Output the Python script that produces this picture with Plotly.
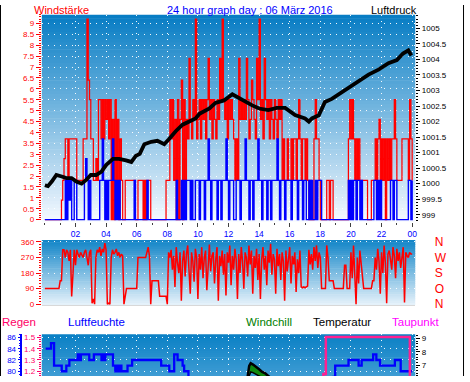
import numpy as np
import plotly.graph_objects as go

W, H = 470, 382

# ---------------------------------------------------------------- data
SAMPLE_MIN = 5  # wind samples every 5 minutes, one row per hour

gust_by_hour = [
    [0, 0, 0, 0, 0, 0, 0, 0, 0, 0, 0, 0],                          # 00
    [0, 0.9, 1.8, 2.8, 3.7, 3.7, 1.8, 3.7, 3.7, 3.7, 3.7, 3.7],     # 01
    [3.7, 1.8, 1.8, 1.8, 1.8, 1.8, 3.7, 3.7, 3.7, 9.2, 6.4, 5.5],   # 02
    [3.7, 3.7, 1.8, 1.8, 2.8, 1.8, 5.5, 5.5, 3.7, 5.5, 3.7, 5.5],   # 03
    [4.6, 5.5, 3.7, 5.5, 0, 4.6, 0, 5.5, 1.8, 4.6, 0, 3.7],         # 04
    [1.8, 0, 0, 1.8, 1.8, 1.8, 1.8, 1.8, 1.8, 1.8, 1.8, 0],         # 05
    [0, 1.8, 1.8, 1.8, 1.8, 0, 1.8, 0, 1.8, 1.8, 1.8, 0],           # 06
    [0, 0, 0, 0, 0, 0, 0, 0, 0, 0, 0, 1.8],                         # 07
    [1.8, 1.8, 5.5, 3.7, 5.5, 1.8, 4.6, 0, 5.5, 0, 4.6, 6.4],       # 08
    [0, 5.5, 1.8, 4.6, 3.7, 7.4, 4.6, 3.7, 5.5, 4.6, 9.2, 3.7],     # 09
    [4.6, 5.5, 3.7, 5.5, 4.6, 5.5, 3.7, 5.5, 7.4, 4.6, 5.5, 3.7],   # 10
    [5.5, 4.6, 3.7, 5.5, 4.6, 7.4, 5.5, 9.2, 5.5, 4.6, 5.5, 3.7],   # 11
    [5.5, 4.6, 5.5, 4.6, 3.7, 1.8, 3.7, 1.8, 7.4, 4.6, 5.5, 4.6],   # 12
    [5.5, 4.6, 7.4, 5.5, 3.7, 4.6, 6.4, 5.5, 4.6, 3.7, 7.4, 5.5],   # 13
    [9.2, 4.6, 5.5, 3.7, 7.4, 5.5, 4.6, 5.5, 3.7, 5.5, 4.6, 3.7],   # 14
    [5.5, 4.6, 3.7, 5.5, 4.6, 5.5, 1.8, 3.7, 1.8, 1.8, 3.7, 1.8],   # 15
    [1.8, 3.7, 1.8, 3.7, 3.7, 1.8, 3.7, 5.5, 3.7, 1.8, 3.7, 3.7],   # 16
    [1.8, 3.7, 1.8, 0, 1.8, 0, 0, 3.7, 5.5, 3.7, 3.7, 1.8],         # 17
    [0, 0, 0, 0, 0, 1.8, 1.8, 0, 1.8, 1.8, 0, 0],                   # 18
    [0, 0, 0, 0, 0, 0, 0, 0, 0, 0, 3.7, 5.5],                       # 19
    [3.7, 5.5, 3.7, 1.8, 3.7, 1.8, 3.7, 1.8, 1.8, 1.8, 1.8, 1.8],   # 20
    [1.8, 0, 0, 0, 1.8, 1.8, 1.8, 3.7, 1.8, 3.7, 4.6, 1.8],         # 21
    [3.7, 1.8, 3.7, 0, 3.7, 1.8, 3.7, 1.8, 3.7, 3.7, 5.5, 3.7],     # 22
    [1.8, 1.8, 1.8, 1.8, 3.7, 3.7, 3.7, 3.7, 3.7, 1.8, 5.5, 3.7],   # 23
]
gust_midnight = 1.8

avg_by_hour = [
    [0, 0, 0, 0, 0, 0, 0, 0, 0, 0, 0, 0],                     # 00
    [0, 0, 0, 0, 1.8, 0, 1.8, 0.9, 1.8, 0, 0, 1.8],           # 01
    [1.8, 0, 0, 0, 0, 0, 0, 1.8, 2.8, 1.8, 0, 1.8],           # 02
    [0, 0, 0, 0, 0, 0, 0, 1.8, 1.8, 3.7, 1.8, 0],             # 03
    [1.8, 0, 1.8, 1.8, 1.8, 3.7, 1.8, 0, 1.8, 0, 1.8, 0],     # 04
    [0, 0, 0, 0, 0, 0, 0, 0, 0, 0, 1.8, 0],                   # 05
    [0, 0, 0, 0, 0, 0, 0, 0, 1.8, 0, 0, 0],                   # 06
    [0, 0, 0, 0, 0, 0, 0, 0, 0, 0, 0, 0],                     # 07
    [0, 0, 0, 0, 0, 0, 0, 1.8, 0, 0, 0, 1.8],                 # 08
    [0, 1.8, 0, 1.8, 1.8, 1.8, 0, 1.8, 0, 0, 1.8, 1.8],       # 09
    [1.8, 0, 1.8, 1.8, 1.8, 0, 1.8, 1.8, 3.7, 1.8, 0, 1.8],   # 10
    [1.8, 1.8, 1.8, 0, 1.8, 1.8, 0, 1.8, 1.8, 1.8, 3.7, 1.8], # 11
    [0, 1.8, 1.8, 1.8, 0, 0, 1.8, 1.8, 1.8, 0, 1.8, 1.8],     # 12
    [1.8, 3.7, 1.8, 1.8, 0, 1.8, 1.8, 0, 1.8, 1.8, 1.8, 3.7], # 13
    [1.8, 1.8, 0, 1.8, 1.8, 1.8, 0, 1.8, 1.8, 0, 1.8, 1.8],   # 14
    [1.8, 1.8, 3.7, 1.8, 0, 1.8, 1.8, 1.8, 0, 1.8, 1.8, 1.8], # 15
    [1.8, 0, 1.8, 1.8, 1.8, 1.8, 0, 1.8, 1.8, 1.8, 0, 1.8],   # 16
    [1.8, 0, 0, 1.8, 0, 1.8, 0, 0, 1.8, 0, 1.8, 1.8],         # 17
    [1.8, 0, 0, 0, 0, 0, 0, 0, 0, 0, 0, 0],                   # 18
    [0, 0, 0, 0, 0, 0, 0, 0, 0, 0, 1.8, 0],                   # 19
    [1.8, 0, 1.8, 1.8, 0, 1.8, 1.8, 0, 1.8, 0, 0, 0],         # 20
    [0, 0, 0, 0, 0, 0, 1.8, 1.8, 0, 1.8, 0, 1.8],             # 21
    [0, 0, 0, 0, 0, 0, 0, 1.8, 1.8, 0, 1.8, 1.8],             # 22
    [0, 0, 0, 0, 0, 0, 0, 0, 0, 1.8, 1.8, 0],                 # 23
]
avg_midnight = 1.8

dir_by_hour = [
    [90, 90, 90, 90, 90, 90, 90, 90, 90, 90, 90, 90],               # 00
    [135, 135, 315, 315, 270, 315, 300, 250, 315, 45, 170, 315],    # 01
    [225, 315, 290, 270, 300, 280, 270, 300, 315, 270, 225, 300],   # 02
    [315, 5, 30, 0, 270, 315, 300, 330, 280, 320, 300, 354],        # 03
    [315, 0, 5, 0, 270, 315, 290, 300, 320, 280, 300, 270],         # 04
    [290, 280, 0, 45, 90, 90, 90, 90, 90, 90, 90, 90],              # 05
    [90, 270, 270, 270, 270, 270, 270, 270, 300, 330, 280, 0],      # 06
    [135, 135, 135, 135, 135, 135, 45, 45, 45, 45, 45, 45],         # 07
    [0, 300, 270, 315, 200, 280, 100, 330, 240, 180, 300, 20],      # 08
    [250, 310, 160, 290, 340, 210, 60, 300, 250, 130, 320, 270],    # 09
    [30, 290, 200, 330, 150, 270, 310, 80, 240, 345, 190, 280],     # 10
    [300, 120, 260, 330, 20, 280, 220, 310, 170, 290, 50, 300],     # 11
    [240, 340, 110, 280, 200, 320, 260, 30, 290, 180, 330, 250],    # 12
    [90, 300, 270, 160, 340, 230, 310, 60, 280, 210, 320, 140],     # 13
    [290, 30, 260, 330, 200, 280, 110, 310, 240, 350, 170, 290],    # 14
    [260, 60, 320, 220, 290, 140, 300, 250, 20, 310, 190, 270],     # 15
    [330, 120, 280, 230, 300, 70, 260, 180, 310, 100, 95, 100],     # 16
    [95, 100, 105, 315, 230, 290, 200, 330, 250, 340, 210, 300],    # 17
    [270, 90, 90, 90, 90, 340, 270, 135, 135, 135, 135, 90],        # 18
    [90, 90, 90, 90, 90, 90, 90, 225, 225, 90, 90, 90],             # 19
    [300, 150, 340, 200, 0, 270, 120, 310, 230, 160, 90, 90],       # 20
    [90, 90, 90, 90, 90, 135, 135, 270, 200, 320, 250, 60],         # 21
    [300, 180, 340, 240, 5, 290, 310, 260, 200, 330, 280, 150],     # 22
    [320, 250, 300, 210, 270, 330, 10, 300, 280, 270, 300, 290],    # 23
]
dir_midnight = 290

pressure_hours = [0.0, 0.2, 0.45, 0.75, 1.1, 1.4, 1.75, 2.05, 2.4, 2.7, 3.0, 3.35,
                  3.7, 4.0, 4.45, 4.85, 5.3, 5.65, 5.95, 6.2, 6.5, 6.95, 7.35, 7.8,
                  8.1, 8.55, 9.0, 9.45, 9.85, 10.1, 10.75, 11.15, 11.7, 12.25, 12.6,
                  13.1, 13.55, 14.0, 14.6, 15.15, 15.7, 16.35, 17.0, 17.25, 17.45,
                  17.9, 18.3, 18.75, 19.4, 20.05, 20.7, 21.15, 21.8, 22.45, 23.0,
                  23.4, 23.75, 23.95]
pressure_hpa = [999.95, 999.92, 1000.07, 1000.28, 1000.23, 1000.18, 1000.18, 1000.07,
                1000.0, 1000.12, 1000.28, 1000.28, 1000.39, 1000.6, 1000.8, 1000.8,
                1000.75, 1000.7, 1000.9, 1000.96, 1001.27, 1001.35, 1001.38, 1001.27,
                1001.43, 1001.69, 1001.9, 1002.0, 1002.1, 1002.25, 1002.42, 1002.6,
                1002.68, 1002.88, 1002.78, 1002.63, 1002.52, 1002.42, 1002.37, 1002.44,
                1002.44, 1002.21, 1002.1, 1002.0, 1002.1, 1002.2, 1002.63, 1002.73,
                1002.94, 1003.15, 1003.35, 1003.51, 1003.67, 1003.88, 1003.98, 1004.19,
                1004.29, 1004.13]

humidity_hours = [0.05, 0.4, 0.6, 1.1, 1.4, 1.6, 2.15, 2.2, 2.25, 2.3, 2.35, 2.4, 2.9,
                  3.2, 3.7, 3.75, 3.8, 3.85, 3.9, 3.95, 4.0, 4.45, 4.6, 4.7, 4.8, 4.9,
                  5.0, 5.1, 5.4, 5.7, 7.6, 8.13, 8.45, 8.67, 9.0, 9.1, 9.38, 9.6, 11.0,
                  13.0, 15.0, 17.0, 18.5, 18.86, 18.97, 19.84, 20.5, 20.7, 21.45, 21.66,
                  21.9, 22.87, 23.25, 24.0]
humidity_pct = [84, 85, 81, 80, 81, 82, 83, 82, 83, 82, 83, 83, 82, 83, 82, 83, 82, 83,
                82, 83, 83, 81, 80, 81, 80, 81, 80, 80, 81, 82, 81, 80, 83, 82, 81, 80,
                78, 76, 73, 70, 72, 75, 78, 79, 81, 82, 81, 82, 83, 82, 81, 82, 80, 80]

temp_hours = [0, 3, 6, 8, 10, 11, 12, 12.5, 13.0, 13.25, 13.35, 13.45, 13.6, 13.8, 14.0,
              14.2, 14.4, 14.65, 15.0, 16, 18, 20, 22, 24]
temp_c = [3.6, 3.3, 3.2, 3.6, 4.5, 5.0, 5.5, 5.8, 6.0, 6.15, 6.95, 7.15, 7.05, 6.9, 6.7,
          6.5, 6.4, 6.15, 5.9, 5.5, 4.8, 4.4, 4.1, 3.9]
windchill_c = [2.0, 1.7, 1.6, 1.8, 2.7, 3.3, 3.9, 4.6, 5.4, 5.8, 6.2, 6.5, 6.45, 6.35,
               6.2, 6.1, 5.95, 5.6, 5.2, 4.4, 4.0, 3.3, 2.9, 2.8]

dew_hours = [0, 6, 12, 18.2, 18.36, 23.85, 24]
dew_c = [2.4, 2.2, 2.6, 6.35, 9.1, 4.0, 4.0]

rain_hours = [0, 24]
rain_mm = [0, 0]

hour_tick_vals = [2, 4, 6, 8, 10, 12, 14, 16, 18, 20, 22, 24]
hour_tick_text = ["02", "04", "06", "08", "10", "12", "14", "16", "18", "20", "22", "00"]
wind_tick_vals = [0, 0.5, 1, 1.5, 2, 2.5, 3, 3.5, 4, 4.5, 5, 5.5, 6, 6.5, 7, 7.5, 8, 8.5, 9]
pressure_tick_vals = [999, 999.5, 1000, 1000.5, 1001, 1001.5, 1002, 1002.5, 1003,
                      1003.5, 1004, 1004.5, 1005]
dir_tick_vals = [0, 90, 180, 270, 360]
compass_text = ["N", "O", "S", "W", "N"]
humidity_tick_vals = [80, 82, 84, 86]
rain_tick_vals = [1.2, 1.3, 1.4, 1.5]
temp_tick_vals = [7, 8, 9]

# ---------------------------------------------------------------- series
gust = [v for row in gust_by_hour for v in row] + [gust_midnight]
avg = [v for row in avg_by_hour for v in row] + [avg_midnight]
wdir = [v for row in dir_by_hour for v in row] + [dir_midnight]
wind_hours = [i * SAMPLE_MIN / 60 for i in range(len(gust))]

# ---------------------------------------------------------------- layout helpers
FONT = "Liberation Sans, Arial, sans-serif"
RED = "#ff0000"
BLUE = "#0000ff"
PINK = "#ff0066"
X_DOM = [42 / W, 417 / W]
X_RANGE = [-0.2, 24.2]


def ydom(top_px, bot_px):
    return [1 - bot_px / H, 1 - top_px / H]


TOP = (10, 223)
MID = (242, 309)
BOT = (339, 382)

GRID = dict(showgrid=True, gridcolor="rgba(255,255,255,0.95)", gridwidth=1,
            griddash="1px,5px")


def gradient(top_px, bot_px, c_top, c_bot, n):
    out = []
    for i in range(n):
        t0 = top_px + (bot_px - top_px) * i / n
        t1 = top_px + (bot_px - top_px) * (i + 1) / n
        f = (i + 0.5) / n
        col = tuple(int(round(a + (b - a) * f)) for a, b in zip(c_top, c_bot))
        out.append(dict(type="rect", xref="paper", yref="paper",
                        x0=X_DOM[0], x1=X_DOM[1],
                        y0=1 - min(t1 + 0.6, bot_px) / H, y1=1 - t0 / H,
                        fillcolor="rgb(%d,%d,%d)" % col, line=dict(width=0),
                        layer="below"))
    return out


shapes = []
shapes += gradient(*TOP, (6, 124, 196), (246, 250, 255), 60)
shapes += gradient(*MID, (16, 132, 199), (232, 243, 251), 30)
shapes += gradient(*BOT, (10, 128, 197), (62, 156, 211), 20)
for xp in (0.5, 465.5):
    shapes.append(dict(type="line", xref="paper", yref="paper", x0=xp / W, x1=xp / W,
                       y0=0, y1=1, line=dict(color="black", width=1), layer="above"))

fig = go.Figure()

# top panel: wind + pressure
fig.add_trace(go.Scatter(x=wind_hours, y=gust, mode="lines", line_shape="hv",
                         line=dict(color=RED, width=1.25), xaxis="x", yaxis="y"))
fig.add_trace(go.Scatter(x=wind_hours, y=avg, mode="lines", line_shape="hv",
                         line=dict(color=BLUE, width=1.4), xaxis="x", yaxis="y"))
fig.add_trace(go.Scatter(x=pressure_hours, y=pressure_hpa, mode="lines",
                         line=dict(color="black", width=3.8), xaxis="x", yaxis="y2"))

# middle panel: wind direction (also carries the compass-letter axis)
fig.add_trace(go.Scatter(x=wind_hours, y=wdir, mode="lines",
                         line=dict(color=RED, width=1.5), xaxis="x2", yaxis="y3"))
fig.add_trace(go.Scatter(x=wind_hours, y=wdir, mode="lines", opacity=0,
                         line=dict(color=RED, width=0), hoverinfo="skip",
                         xaxis="x2", yaxis="y4"))

# bottom panel
fig.add_trace(go.Scatter(x=rain_hours, y=rain_mm, mode="lines",
                         line=dict(color=PINK, width=2), xaxis="x3", yaxis="y5"))
fig.add_trace(go.Scatter(x=humidity_hours, y=humidity_pct, mode="lines", line_shape="hv",
                         line=dict(color=BLUE, width=2.3), xaxis="x3", yaxis="y6"))
fig.add_trace(go.Scatter(x=temp_hours, y=windchill_c, mode="lines",
                         line=dict(color="black", width=1.5), xaxis="x3", yaxis="y7"))
fig.add_trace(go.Scatter(x=temp_hours, y=temp_c, mode="lines", fill="tonexty",
                         fillcolor="#0e8a0e",
                         line=dict(color="black", width=2.5), xaxis="x3", yaxis="y7"))
fig.add_trace(go.Scatter(x=dew_hours, y=dew_c, mode="lines", line_shape="hv",
                         line=dict(color="#ff2090", width=2.5), xaxis="x3", yaxis="y7"))

tickf = lambda c, s=8: dict(family=FONT, size=s, color=c)

fig.update_layout(
    width=W, height=H, margin=dict(l=0, r=0, t=0, b=0),
    paper_bgcolor="white", plot_bgcolor="rgba(0,0,0,0)",
    showlegend=False, shapes=shapes,
    font=dict(family=FONT),
    xaxis=dict(domain=X_DOM, range=X_RANGE, anchor="y", tickmode="array",
               tickvals=hour_tick_vals, ticktext=hour_tick_text, tickfont=tickf(BLUE, 8.5),
               ticks="outside", ticklen=4, tickcolor="#404040",
               minor=dict(dtick=1, tick0=0, ticks="outside", ticklen=2, tickcolor="#404040",
                          showgrid=False),
               zeroline=False, showline=False, **GRID),
    yaxis=dict(domain=ydom(*TOP), range=[-0.09, 9.40], anchor="x", tickmode="array",
               tickvals=wind_tick_vals, ticktext=["%g" % v for v in wind_tick_vals],
               tickfont=tickf(RED), ticks="outside", ticklen=5, tickcolor=RED,
               minor=dict(dtick=0.1, tick0=0, ticks="outside", ticklen=2, tickcolor=RED,
                          showgrid=False),
               zeroline=False, showline=False, **GRID),
    yaxis2=dict(overlaying="y", side="right", anchor="x", range=[998.78, 1005.44],
                tickmode="array", tickvals=pressure_tick_vals,
                ticktext=["%g" % v for v in pressure_tick_vals],
                tickfont=tickf("black"), ticks="outside", ticklen=4, tickcolor="black",
                minor=dict(dtick=0.1, tick0=999, ticks="outside", ticklen=2,
                           tickcolor="black", showgrid=False),
                showgrid=False, zeroline=False, showline=False),
    xaxis2=dict(domain=X_DOM, range=X_RANGE, anchor="y3", showticklabels=False,
                ticks="", showgrid=False, zeroline=False, showline=True,
                linecolor="#d8d8d8", linewidth=1),
    yaxis3=dict(domain=ydom(*MID), range=[-5.6, 371.3], anchor="x2", tickmode="array",
                tickvals=dir_tick_vals, ticktext=[str(v) for v in dir_tick_vals],
                tickfont=tickf(RED), ticks="outside", ticklen=5, tickcolor=RED,
                minor=dict(dtick=15, tick0=0, ticks="outside", ticklen=2, tickcolor=RED,
                           showgrid=False),
                zeroline=False, showline=False, **GRID),
    yaxis4=dict(overlaying="y3", side="right", anchor="x2", range=[-5.6, 371.3],
                tickmode="array", tickvals=dir_tick_vals, ticktext=compass_text,
                tickfont=tickf(RED, 12), ticks="outside", ticklen=16,
                tickcolor="rgba(0,0,0,0)", showgrid=False, zeroline=False, showline=False),
    xaxis3=dict(domain=X_DOM, range=X_RANGE, anchor="y5", tickmode="array",
                tickvals=hour_tick_vals, showticklabels=False, ticks="",
                zeroline=False, showline=False, **GRID),
    yaxis5=dict(domain=ydom(*BOT), range=[1.158, 1.528], anchor="x3", tickmode="array",
                tickvals=rain_tick_vals, ticktext=["%.1f" % v for v in rain_tick_vals],
                tickfont=tickf(PINK), ticks="outside", ticklen=4, tickcolor=PINK,
                minor=dict(dtick=0.02, tick0=1.0, ticks="outside", ticklen=2,
                           tickcolor=PINK, showgrid=False),
                zeroline=False, showline=False, **GRID),
    yaxis6=dict(overlaying="y5", anchor="free", position=21.5 / W, side="left",
                range=[79.16, 86.57], tickmode="array", tickvals=humidity_tick_vals,
                ticktext=[str(v) for v in humidity_tick_vals], tickfont=tickf(BLUE),
                ticks="outside", ticklen=3, tickcolor=BLUE,
                minor=dict(dtick=0.5, tick0=80, ticks="outside", ticklen=2,
                           tickcolor=BLUE, showgrid=False),
                showline=True, linecolor=BLUE, linewidth=1.5,
                showgrid=False, zeroline=False),
    yaxis7=dict(overlaying="y5", side="right", anchor="x3", range=[6.2, 9.31],
                tickmode="array", tickvals=temp_tick_vals,
                ticktext=[str(v) for v in temp_tick_vals], tickfont=tickf("black"),
                ticks="outside", ticklen=4, tickcolor="black",
                minor=dict(dtick=0.2, tick0=6, ticks="outside", ticklen=2,
                           tickcolor="black", showgrid=False),
                showgrid=False, zeroline=False, showline=False),
)


def label(text, x_px, base_px, color, size=11, anchor="left"):
    fig.add_annotation(text=text, xref="paper", yref="paper", x=x_px / W,
                       y=1 - (base_px + 3.5) / H, xanchor=anchor, yanchor="bottom",
                       showarrow=False, font=dict(family=FONT, size=size, color=color),
                       borderpad=1)


label("Windstärke", 32, 9.5, RED)
label("24 hour graph day : 06 März 2016", 251, 9.5, BLUE, anchor="center")
label("Luftdruck", 371, 9.5, "black")
label("Regen", 0, 331, PINK, 11.5)
label("Luftfeuchte", 66, 331, BLUE, 11.5)
label("Windchill", 245, 331, "#008000", 11.5)
label("Temperatur", 312, 331, "black", 11.5)
label("Taupunkt", 392, 331, "#ff00ff", 11.5)

fig.write_html("out.html", config={"displayModeBar": False})
